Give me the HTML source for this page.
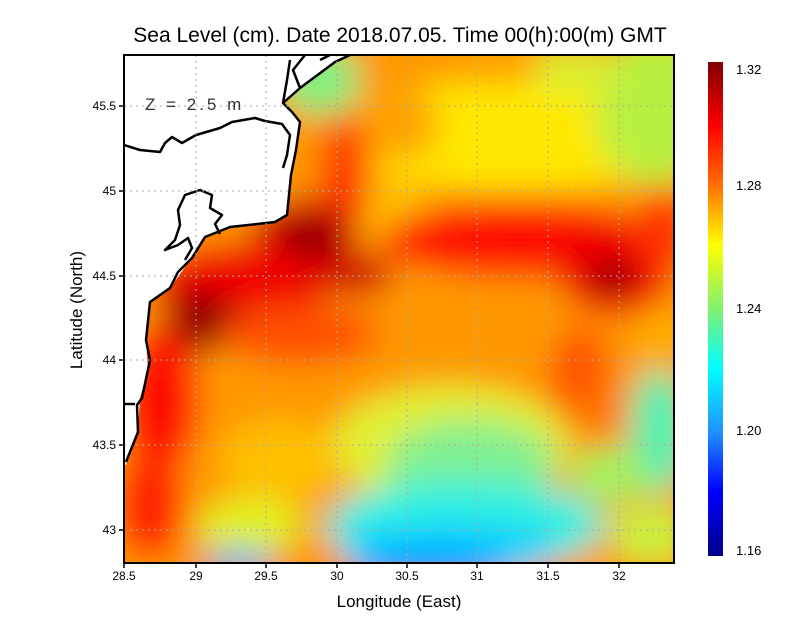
<!DOCTYPE html>
<html><head><meta charset="utf-8"><style>
body{margin:0;background:#fff;width:800px;height:618px;overflow:hidden;font-family:"Liberation Sans",sans-serif}
</style></head><body>
<svg width="800" height="618" viewBox="0 0 800 618" xmlns="http://www.w3.org/2000/svg" font-family="Liberation Sans, sans-serif">
<defs>
<clipPath id="pc"><rect x="124" y="55" width="550" height="508"/></clipPath>
<filter id="b1" filterUnits="userSpaceOnUse" x="0" y="0" width="800" height="618"><feGaussianBlur stdDeviation="16"/></filter>
<linearGradient id="cb" x1="0" y1="0" x2="0" y2="1">
<stop offset="0" stop-color="#800000"/>
<stop offset="0.13" stop-color="#ff0000"/>
<stop offset="0.25" stop-color="#ff7000"/>
<stop offset="0.37" stop-color="#ffff00"/>
<stop offset="0.5" stop-color="#80f070"/>
<stop offset="0.62" stop-color="#00ffff"/>
<stop offset="0.75" stop-color="#2090ff"/>
<stop offset="0.87" stop-color="#0000ff"/>
<stop offset="1" stop-color="#00008a"/>
</linearGradient>
</defs>
<text x="400" y="42" font-size="21" text-anchor="middle" fill="#000">Sea Level (cm). Date 2018.07.05. Time 00(h):00(m) GMT</text>
<g clip-path="url(#pc)">
<rect x="100" y="40" width="600" height="540" fill="#ffa000"/>
<g filter="url(#b1)">
<rect x="60" y="20" width="700" height="600" fill="#ff9800"/>
<!-- north yellow/green -->
<ellipse cx="520" cy="135" rx="190" ry="55" fill="#ffe800"/>
<ellipse cx="655" cy="110" rx="60" ry="75" fill="#b8f040"/>
<ellipse cx="570" cy="70" rx="50" ry="22" fill="#d8f030"/>
<ellipse cx="320" cy="80" rx="40" ry="35" fill="#80f080"/>
<ellipse cx="500" cy="65" rx="40" ry="20" fill="#ffa000"/>
<ellipse cx="395" cy="125" rx="45" ry="35" fill="#ffa000"/>
<ellipse cx="390" cy="210" rx="40" ry="30" fill="#ffc000"/>
<!-- red band west -->
<ellipse cx="345" cy="175" rx="25" ry="60" fill="#ff3000"/>
<ellipse cx="305" cy="235" rx="55" ry="38" fill="#d00000"/>
<ellipse cx="310" cy="238" rx="28" ry="18" fill="#800000"/>
<ellipse cx="240" cy="285" rx="90" ry="42" fill="#f00000"/>
<ellipse cx="200" cy="322" rx="36" ry="32" fill="#900000"/>
<ellipse cx="355" cy="275" rx="40" ry="22" fill="#d00000"/>
<ellipse cx="160" cy="400" rx="40" ry="75" fill="#ff1000"/>
<ellipse cx="150" cy="505" rx="35" ry="55" fill="#ff2000"/>
<!-- red band east -->
<ellipse cx="520" cy="240" rx="140" ry="38" fill="#ff1000"/>
<ellipse cx="615" cy="268" rx="60" ry="48" fill="#f00000"/>
<ellipse cx="612" cy="278" rx="24" ry="18" fill="#900000"/>
<ellipse cx="665" cy="230" rx="30" ry="40" fill="#ff3000"/>
<ellipse cx="300" cy="335" rx="80" ry="30" fill="#ff5000"/>
<ellipse cx="580" cy="375" rx="30" ry="48" fill="#ff5000"/>
<!-- south -->
<ellipse cx="450" cy="445" rx="120" ry="60" fill="#e0f030"/>
<ellipse cx="470" cy="465" rx="85" ry="45" fill="#80f090"/>
<ellipse cx="280" cy="460" rx="60" ry="40" fill="#ffc000"/>
<ellipse cx="250" cy="525" rx="55" ry="28" fill="#e0f020"/>
<ellipse cx="465" cy="525" rx="140" ry="45" fill="#30f0e0"/>
<ellipse cx="450" cy="550" rx="110" ry="28" fill="#00d0ff"/>
<ellipse cx="430" cy="570" rx="80" ry="18" fill="#1090ff"/>
<ellipse cx="240" cy="562" rx="35" ry="12" fill="#30b0ff"/>
<ellipse cx="660" cy="430" rx="30" ry="65" fill="#50f0b0"/>
<ellipse cx="650" cy="535" rx="40" ry="30" fill="#c8f040"/>
<ellipse cx="610" cy="475" rx="40" ry="28" fill="#a0f060"/>
<ellipse cx="595" cy="410" rx="26" ry="25" fill="#ff7000"/>
<ellipse cx="660" cy="340" rx="20" ry="35" fill="#ffb000"/>
</g>
<!-- land -->
<path d="M124 55 L350 55 L335 62 L300 88 L283 103 L292 112 L300 122 L296 150 L291 175 L287 215 L275 222 L230 227 L205 237 L190 260 L170 288 L150 302 L146 340 L148 370 L140 398 L138 430 L126 465 L124 465 Z" fill="#fff"/>
<g fill="none" stroke="#000" stroke-width="2.5" stroke-linejoin="round">
<path d="M350 55 L335 62 L300 88 L283 103 L292 112 L300 122 L296 150 L291 175 L287 215 L275 222 L230 227 L205 237 L192 258 L178 272 L170 288 L150 302 L146 340 L150 360 L142 398 L137 405 L138 432 L126 462"/>
<path d="M124 145 L140 150 L160 152 L165 143 L172 137 L182 143 L196 135 L220 128 L232 122 L255 118 L265 121 L282 124 L290 135 L287 155 L283 168"/>
<path d="M220 234 L215 224 L222 215 L210 208 L212 195 L200 190 L185 195 L178 210 L180 225 L175 240 L165 250 L178 245 L188 238 L192 248 L185 260"/>
<path d="M283 103 L287 80 L290 60 M300 88 L293 70 L305 55 M320 60 L330 55"/>
<path d="M124 404 L135 404"/>
</g>
<g stroke="#aaa" stroke-width="1" stroke-dasharray="2,4">
<line x1="196" y1="55" x2="196" y2="563"/><line x1="266" y1="55" x2="266" y2="563"/><line x1="337" y1="55" x2="337" y2="563"/><line x1="407" y1="55" x2="407" y2="563"/><line x1="477" y1="55" x2="477" y2="563"/><line x1="548" y1="55" x2="548" y2="563"/><line x1="619" y1="55" x2="619" y2="563"/>
<line x1="124" y1="106" x2="674" y2="106"/><line x1="124" y1="191" x2="674" y2="191"/><line x1="124" y1="276" x2="674" y2="276"/><line x1="124" y1="360" x2="674" y2="360"/><line x1="124" y1="445" x2="674" y2="445"/><line x1="124" y1="530" x2="674" y2="530"/>
</g>
<text x="145" y="110" font-size="17" fill="#333" letter-spacing="3">Z = 2.5 m</text>
</g>
<rect x="124" y="55" width="550" height="508" fill="none" stroke="#000" stroke-width="2"/>
<g stroke="#000" stroke-width="1.5">
<line x1="124" y1="563" x2="124" y2="568"/><line x1="196" y1="563" x2="196" y2="568"/><line x1="266" y1="563" x2="266" y2="568"/><line x1="337" y1="563" x2="337" y2="568"/><line x1="407" y1="563" x2="407" y2="568"/><line x1="477" y1="563" x2="477" y2="568"/><line x1="548" y1="563" x2="548" y2="568"/><line x1="619" y1="563" x2="619" y2="568"/>
<line x1="119" y1="106" x2="124" y2="106"/><line x1="119" y1="191" x2="124" y2="191"/><line x1="119" y1="276" x2="124" y2="276"/><line x1="119" y1="360" x2="124" y2="360"/><line x1="119" y1="445" x2="124" y2="445"/><line x1="119" y1="530" x2="124" y2="530"/>
</g>
<g font-size="12" fill="#000" text-anchor="middle">
<text x="124" y="580">28.5</text><text x="196" y="580">29</text><text x="266" y="580">29.5</text><text x="337" y="580">30</text><text x="407" y="580">30.5</text><text x="477" y="580">31</text><text x="548" y="580">31.5</text><text x="619" y="580">32</text>
</g>
<g font-size="12" fill="#000" text-anchor="end">
<text x="116" y="110">45.5</text><text x="116" y="195">45</text><text x="116" y="280">44.5</text><text x="116" y="364">44</text><text x="116" y="449">43.5</text><text x="116" y="534">43</text>
</g>
<text x="399" y="607" font-size="17" text-anchor="middle">Longitude (East)</text>
<text transform="translate(82,310) rotate(-90)" font-size="17" text-anchor="middle">Latitude (North)</text>
<rect x="708" y="62" width="15" height="494" fill="url(#cb)"/>
<g font-size="13" fill="#000">
<text x="736" y="74">1.32</text><text x="736" y="190">1.28</text><text x="736" y="313">1.24</text><text x="736" y="435">1.20</text><text x="736" y="555">1.16</text>
</g>
</svg>
</body></html>
